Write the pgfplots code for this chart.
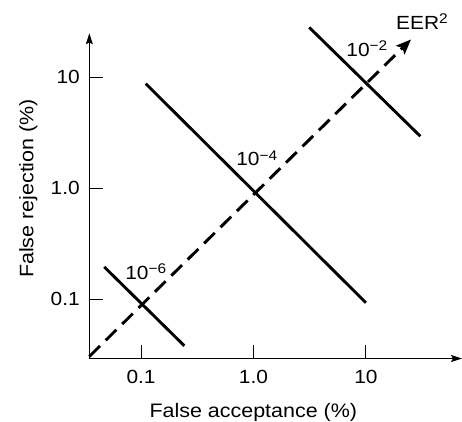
\documentclass[border=0pt]{standalone}
\usepackage{fontspec}
\setmainfont{Liberation Sans}[FakeStretch=1.1]
\usepackage{pgfplots}
\pgfplotsset{compat=1.18}
\usetikzlibrary{arrows.meta}
\newcommand\sups[1]{\raisebox{5.7pt}{\fontsize{14}{14}\selectfont #1}}
\begin{document}
\fontsize{19}{23}\selectfont
\begin{tikzpicture}[font=\fontsize{19}{23}\selectfont]
\useasboundingbox (-89.3pt,-62.7pt) rectangle (372.4pt,358.3pt);
\begin{axis}[
  scale only axis, width=372.4pt, height=325pt,
  at={(0pt,0pt)}, anchor=south west,
  xmode=log, ymode=log,
  xmin=0.0347, xmax=71.6, ymin=0.0292, ymax=25,
  axis lines=left,
  axis line style={line width=0.8pt, -{Stealth[length=11pt,width=7pt,inset=2pt]}},
  clip=false,
  /pgf/number format/assume math mode=true,
  tick label style={font=\fontsize{19}{23}\selectfont},
  label style={font=\fontsize{19.5}{23}\selectfont},
  xtick={0.1,1,10}, xticklabels={0.1,1.0,10},
  ytick={0.1,1,10}, yticklabels={0.1,1.0,10},
  xminorticks=false, yminorticks=false,
  tick align=inside, major tick length=14pt,
  tick style={black, line width=0.8pt},
  xticklabel style={yshift=-5.4pt},
  yticklabel style={xshift=-3pt},
  xlabel={False acceptance (\%)},
  ylabel={False rejection (\%)},
  xlabel style={at={(axis description cs:0.44,-0.1815)}, anchor=base},
  ylabel style={at={(axis description cs:-0.1504,0.523)}, anchor=base},
]
\addplot[black, line width=2.9pt, dash pattern=on 15pt off 8pt,
  -{Stealth[length=15pt,width=12pt,inset=3pt]}] coordinates {(0.0347,0.0305) (25.2,22)};
\addplot[black, line width=2.9pt] coordinates {(0.047,0.196) (0.243,0.038)};
\addplot[black, line width=2.9pt] coordinates {(0.11,8.8) (10,0.093)};
\addplot[black, line width=2.9pt] coordinates {(3.13,28.3) (30.5,2.95)};
\node[font=\fontsize{19}{23}\selectfont] at (axis cs:0.11,0.176) {10\sups{−6}};
\node[font=\fontsize{19}{23}\selectfont] at (axis cs:1.07,1.87) {10\sups{−4}};
\node[font=\fontsize{19}{23}\selectfont] at (axis cs:10.2,18.3) {10\sups{−2}};
\node[font=\fontsize{19}{23}\selectfont] at (axis cs:31.5,31.8) {EER\sups{2}};
\end{axis}
\end{tikzpicture}
\end{document}
